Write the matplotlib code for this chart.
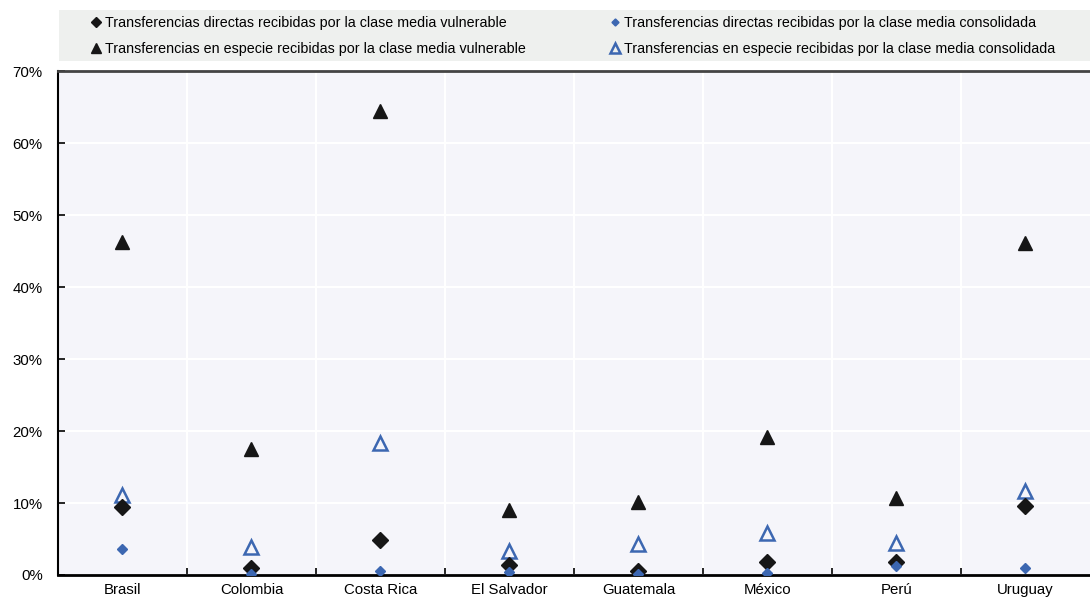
import matplotlib.pyplot as plt
from matplotlib.patches import Rectangle
import numpy as np

plt.rcParams["font.family"] = ["Liberation Sans", "DejaVu Sans"]

# --- data (share of households, %) -----------------------------------------
countries = ["Brasil", "Colombia", "Costa Rica", "El Salvador", "Guatemala",
             "México", "Perú", "Uruguay"]
directas_vulnerable = [9.4, 1.0, 4.9, 1.4, 0.6, 1.8, 1.8, 9.6]
directas_consolidada = [3.6, 0.1, 0.6, 0.4, 0.1, 0.3, 1.3, 0.9]
especie_vulnerable = [46.2, 17.5, 64.4, 9.0, 10.1, 19.2, 10.7, 46.1]
especie_consolidada = [11.1, 3.9, 18.3, 3.3, 4.3, 5.8, 4.4, 11.7]

lab_dv = "Transferencias directas recibidas por la clase media vulnerable"
lab_dc = "Transferencias directas recibidas por la clase media consolidada"
lab_ev = "Transferencias en especie recibidas por la clase media vulnerable"
lab_ec = "Transferencias en especie recibidas por la clase media consolidada"

C_BLACK, C_BLUE = "#161616", "#3c67b1"
C_BG, C_LEG = "#f5f5fa", "#eef0ee"

fig = plt.figure(figsize=(10.9, 5.98), dpi=100)
ax = fig.add_axes([0.0532, 0.0385, 0.9468, 0.8425])
ax.set_facecolor(C_BG)

x = np.arange(len(countries))
h_ev, = ax.plot(x, especie_vulnerable, ls="none", marker="^", ms=10,
                color=C_BLACK, zorder=3)
h_ec, = ax.plot(x, especie_consolidada, ls="none", marker="^", ms=10,
                mfc="none", mec=C_BLUE, mew=1.8, zorder=3)
h_dv, = ax.plot(x, directas_vulnerable, ls="none", marker="D", ms=8,
                color=C_BLACK, zorder=4)
h_dc, = ax.plot(x, directas_consolidada, ls="none", marker="D", ms=5.5,
                color=C_BLUE, zorder=5)

ax.set_xlim(-0.5, len(countries) - 0.5)
ax.set_ylim(0, 70)
ax.set_yticks(range(0, 71, 10))
ax.set_yticklabels([f"{v}%" for v in range(0, 71, 10)])
ax.set_xticks(x)
ax.set_xticklabels(countries)
ax.set_xticks(x[:-1] + 0.5, minor=True)

ax.grid(axis="y", color="white", lw=1.5)
ax.grid(axis="x", which="minor", color="white", lw=1.5)
ax.set_axisbelow(True)
ax.tick_params(axis="x", which="major", length=0, labelsize=10.8, pad=6)
ax.tick_params(axis="x", which="minor", direction="in", length=5, width=1.2)
ax.tick_params(axis="y", direction="in", length=5, width=1.2, labelsize=10.8,
               pad=11)

for side in ("left", "bottom"):
    ax.spines[side].set_color("black")
ax.spines["left"].set_linewidth(1.5)
ax.spines["bottom"].set_linewidth(2)
ax.spines["top"].set_color("#444444")
ax.spines["top"].set_linewidth(2)
ax.spines["right"].set_visible(False)

# legend band across the top
fig.patches.append(Rectangle((59 / 1090, 1 - 61 / 598), 1 - 59 / 1090, 51 / 598,
                             transform=fig.transFigure, facecolor=C_LEG,
                             edgecolor="none", zorder=0))
fig.legend([h_dv, h_ev, h_dc, h_ec], [lab_dv, lab_ev, lab_dc, lab_ec], ncol=2,
           loc="center left", bbox_to_anchor=(90.5 / 1090, 1 - 36 / 598),
           frameon=False, fontsize=10.3, handlelength=0.8, handletextpad=0.2,
           columnspacing=5.85, borderaxespad=0, borderpad=0, labelspacing=0.8,
           markerscale=0.65)

fig.savefig("out.png", dpi=100)
